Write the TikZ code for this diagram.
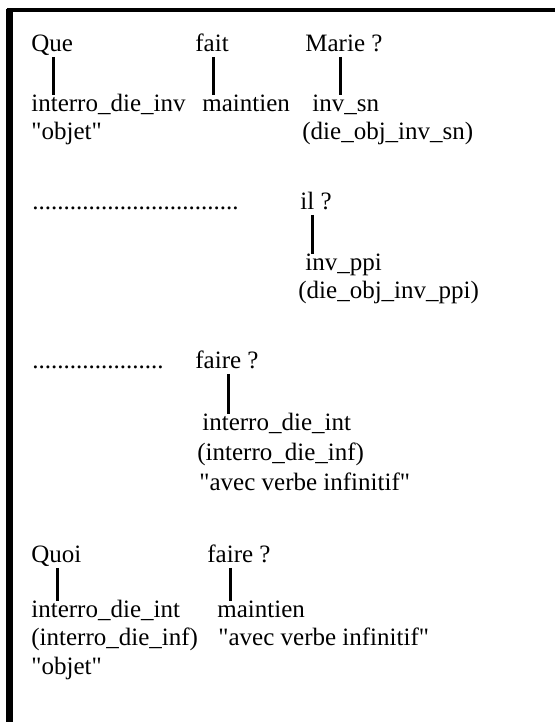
\documentclass[tikz,border=0pt]{standalone}
\usepackage{fontspec}
\newfontfamily\scanfont{Liberation Serif}
\usetikzlibrary{calc}
\tikzset{
    word/.style={anchor=base west, inner sep=0pt, text height=0.76em, text depth=0.28em,
        font=\scanfont\fontsize{12.5bp}{14bp}\selectfont},
    stem/.style={line width=1.5bp},
    frame/.style={line width=3bp},
}
% vertical stroke under a word, #2 = offset from its left edge
\newcommand{\wordbar}[3]{%
    \draw[stem] ($(#1.south west)+(#2,0)$) -- ($(#1.south west |- #3.north)+(#2,0)$);%
}

\begin{document}
\begin{tikzpicture}[x=0.5bp, y=-0.5bp]
    \useasboundingbox (0,0) rectangle (555,722);
    \draw[frame] (9.5,722) -- (9.5,9);
    \draw[frame, line width=2.2bp] (6.5,10) -- (555,10);

    % Que fait Marie ?
    \node[word] (que) at (31,51) {Que};
    \node[word] (fait) at (195,51) {fait};
    \node[word] (marie) at (305,51) {Marie ?};
    \node[word] (queval) at (31,111) {interro\_die\_inv};
    \node[word] (queobj) at (31,139) {"objet"};
    \node[word] (faitval) at (202,111) {maintien};
    \node[word] (marieval) at (312,111) {inv\_sn};
    \node[word] (mariefn) at (302,139) {(die\_obj\_inv\_sn)};
    \wordbar{que}{22}{queval}
    \wordbar{fait}{18}{faitval}
    \wordbar{marie}{35}{marieval}

    % ... il ?
    \node[word] (dotsa) at (32,209) {.................................};
    \node[word] (il) at (300,209) {il ?};
    \node[word] (ilval) at (305,270) {inv\_ppi};
    \node[word] (ilfn) at (298,298) {(die\_obj\_inv\_ppi)};
    \wordbar{il}{12}{ilval}

    % ... faire ?
    \node[word] (dotsb) at (32,368) {.....................};
    \node[word] (fairea) at (195,368) {faire ?};
    \node[word] (faireaval) at (202,430) {interro\_die\_int};
    \node[word] (faireafn) at (197,460) {(interro\_die\_inf)};
    \node[word] (faireanote) at (199,490) {"avec verbe infinitif"};
    \wordbar{fairea}{33}{faireaval}

    % Quoi faire ?
    \node[word] (quoi) at (31,562) {Quoi};
    \node[word] (faireb) at (207,562) {faire ?};
    \node[word] (quoival) at (31,617) {interro\_die\_int};
    \node[word] (quoifn) at (31,645) {(interro\_die\_inf)};
    \node[word] (quoiobj) at (31,674) {"objet"};
    \node[word] (fairebval) at (217,617) {maintien};
    \node[word] (fairebnote) at (218,645) {"avec verbe infinitif"};
    \wordbar{quoi}{26}{quoival}
    \wordbar{faireb}{23}{fairebval}
\end{tikzpicture}
\end{document}
